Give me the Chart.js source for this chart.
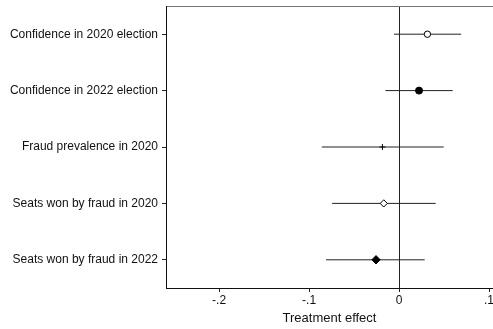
<!DOCTYPE html>
<html>
<head>
<meta charset="utf-8">
<script src="https://cdn.jsdelivr.net/npm/chart.js@4"></script>
<style>
  html, body { margin: 0; padding: 0; background: #fff; }
</style>
</head>
<body>
<canvas id="canvas" width="493" height="329"></canvas>
<script>
const outcomes = [
  'Confidence in 2020 election',
  'Confidence in 2022 election',
  'Fraud prevalence in 2020',
  'Seats won by fraud in 2020',
  'Seats won by fraud in 2022',
]
const estimates = [0.0315, 0.0222, -0.0185, -0.0170, -0.0256]
const ciLow = [-0.0056, -0.0152, -0.0859, -0.0744, -0.0811]
const ciHigh = [0.0690, 0.0596, 0.0496, 0.0407, 0.0285]
const xTickValues = [-0.2, -0.1, 0, 0.1]
const xTickLabels = ['-.2', '-.1', '0', '.1']

const font = { family: '"Liberation Sans", Arial, Helvetica, sans-serif', size: 12 }

// confidence intervals, one line per outcome
const ciSets = outcomes.map((o, i) => ({
  label: o + ' CI',
  data: [{ x: ciLow[i], y: i + 1 }, { x: ciHigh[i], y: i + 1 }],
  showLine: true,
  borderColor: '#222',
  borderWidth: 1,
  pointRadius: 0,
}))

const pointSet = {
  label: 'Estimate',
  data: estimates.map((v, i) => ({ x: v, y: i + 1 })),
  pointStyle: ['circle', 'circle', 'cross', 'rectRot', 'rectRot'],
  pointRadius: [3.2, 3.5, 3, 3.6, 4.2],
  backgroundColor: ['#fff', '#000', '#000', '#fff', '#000'],
  borderColor: '#000',
  borderWidth: 1,
}

const data = {
  datasets: [pointSet].concat(ciSets),
}

const noPad = (s) => { s.paddingLeft = 0; s.paddingRight = 0; s.paddingTop = 0; s.paddingBottom = 0 }

const config = {
  type: 'scatter',
  data: data,
  options: {
    responsive: false,
    animation: false,
    layout: { autoPadding: false, padding: { left: 0, right: 0, top: 6, bottom: 0 } },
    plugins: { legend: { display: false }, tooltip: { enabled: false } },
    scales: {
      x: {
        type: 'linear',
        position: 'bottom',
        min: -0.259,
        max: 0.1044,
        afterBuildTicks: (s) => { s.ticks = xTickValues.map(v => ({ value: v })) },
        afterFit: (s) => { s.height = 41; noPad(s) },
        ticks: {
          font: font,
          color: '#111',
          padding: 1,
          maxRotation: 0,
          callback: (v) => xTickLabels[xTickValues.indexOf(v)],
        },
        grid: {
          color: (ctx) => (ctx.tick && ctx.tick.value === 0 ? '#222' : 'rgba(0,0,0,0)'),
          tickColor: '#222',
          tickLength: 4,
          lineWidth: 1,
        },
        border: { color: '#111', width: 1 },
        title: {
          display: true,
          text: 'Treatment effect',
          font: { family: font.family, size: 13 },
          color: '#111',
          padding: { top: 2, bottom: 3 },
        },
      },
      x2: {
        type: 'linear',
        position: 'top',
        min: -0.259,
        max: 0.1044,
        ticks: { display: false },
        grid: { display: false, drawTicks: false },
        border: { color: '#777', width: 1 },
        afterFit: (s) => { s.height = 0; noPad(s) },
      },
      y: {
        type: 'linear',
        reverse: true,
        min: 0.5,
        max: 5.5,
        afterBuildTicks: (s) => { s.ticks = outcomes.map((o, i) => ({ value: i + 1 })) },
        afterFit: (s) => { s.width = 166; noPad(s) },
        ticks: {
          font: font,
          color: '#111',
          padding: 4,
          callback: (v) => outcomes[v - 1],
        },
        grid: { drawOnChartArea: false, tickColor: '#222', tickLength: 4 },
        border: { color: '#111', width: 1 },
      },
    },
  },
}

const canvas = document.getElementById('canvas')
const chart = new Chart(canvas, config)
</script>
</body>
</html>
